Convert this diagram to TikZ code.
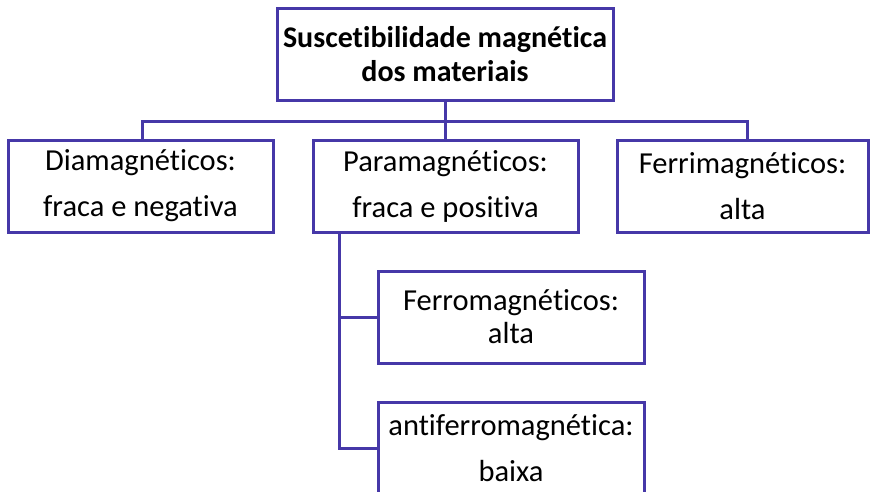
\documentclass[tikz,border=0pt]{standalone}
\usepackage{fontspec}
\setmainfont{Carlito}[Ligatures=NoCommon]
\definecolor{boxline}{RGB}{70,56,168}
\begin{document}
\begin{tikzpicture}[x=1pt,y=-1pt,
  box/.style={draw=boxline,line width=3pt,inner sep=0pt,align=center,minimum height=92pt},
  tight/.style={font={\fontsize{30.5}{33}\selectfont}},
  loose/.style={font={\fontsize{30.5}{46}\selectfont}},
  link/.style={draw=boxline,line width=3pt}]
\useasboundingbox (0,0) rectangle (872,491);
\node[box,font={\fontsize{30}{34}\selectfont},minimum width=336pt] (top) at (445,54) {\textbf{Suscetibilidade magnética}\\\textbf{dos materiais}};
\node[box,loose,minimum width=265pt] (dia) at (140.5,186) {Diamagnéticos:\\fraca e negativa};
\node[box,loose,minimum width=265pt] (para) at (445.5,186) {Paramagnéticos:\\fraca e positiva};
\node[box,loose,minimum width=251pt] (ferri) at (742.5,186) {Ferrimagnéticos:\\alta};
\node[box,tight,minimum width=266pt] (ferro) at (511,317) {Ferromagnéticos:\\alta};
\node[box,loose,minimum width=266pt] (anti) at (511,448) {antiferromagnética:\\baixa};
\coordinate (bus) at ([yshift=-20pt]top.south);
\draw[link] (top.south) -- (top.south |- para.north);
\draw[link] ([xshift=1.5pt]dia.north) |- (bus) -| ([xshift=4.5pt]ferri.north);
\coordinate (pb) at ([xshift=-106pt]para.south);
\draw[link] (pb) |- (anti.west);
\draw[link] (pb |- ferro.west) -- (ferro.west);
\end{tikzpicture}
\end{document}
